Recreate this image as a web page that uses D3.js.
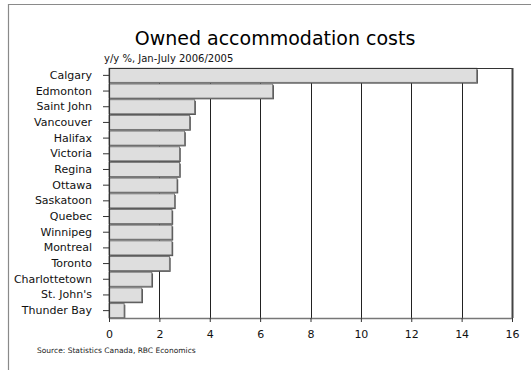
<!DOCTYPE html>
<html>
<head>
<meta charset="utf-8">
<script src="https://cdn.jsdelivr.net/npm/d3@7"></script>
<style>
  html, body { margin: 0; padding: 0; background: #fff; }
  svg { display: block; font-family: "DejaVu Sans", Verdana, sans-serif; }
</style>
</head>
<body>
<svg id="chart" width="531" height="370"></svg>
<script>
// Year-over-year change in owned accommodation costs, Jan-July 2006 vs 2005
const cities = ["Calgary", "Edmonton", "Saint John", "Vancouver", "Halifax", "Victoria",
  "Regina", "Ottawa", "Saskatoon", "Quebec", "Winnipeg", "Montreal", "Toronto",
  "Charlottetown", "St. John's", "Thunder Bay"];
const changes = [14.6, 6.5, 3.4, 3.2, 3.0, 2.8, 2.8, 2.7, 2.6, 2.5, 2.5, 2.5, 2.4, 1.7, 1.3, 0.6];
const xTicks = [0, 2, 4, 6, 8, 10, 12, 14, 16];

const svg = d3.select("#chart");
const plot = { left: 109, right: 512, top: 68, bottom: 318 };

// outer panel frame
svg.append("path")
  .attr("d", "M8.5,372 V4.5 H535")
  .attr("fill", "none").attr("stroke", "#8a8a8a").attr("stroke-width", 1.2);

const x = d3.scaleLinear().domain([0, 16]).range([plot.left, plot.right]);
const y = d3.scaleBand().domain(cities).range([plot.top, plot.bottom]).paddingInner(0.1).paddingOuter(0.02);

// vertical gridlines
svg.append("g").selectAll("line").data(xTicks.slice(1, -1)).join("line")
  .attr("x1", d => Math.round(x(d)) + 0.5).attr("x2", d => Math.round(x(d)) + 0.5)
  .attr("y1", plot.top).attr("y2", plot.bottom)
  .attr("stroke", "#222").attr("stroke-width", 1);

// bars with a dark shadow edge on the right and bottom
const bars = svg.append("g");
bars.selectAll("rect.shadow").data(cities).join("rect")
  .attr("class", "shadow")
  .attr("x", x(0) + 1.2).attr("y", d => y(d) + 1.2)
  .attr("width", (d, i) => x(changes[i]) - x(0))
  .attr("height", y.bandwidth())
  .attr("fill", "#4a4a4a");
bars.selectAll("rect.bar").data(cities).join("rect")
  .attr("class", "bar")
  .attr("x", x(0)).attr("y", d => y(d))
  .attr("width", (d, i) => x(changes[i]) - x(0))
  .attr("height", y.bandwidth())
  .attr("fill", "#dedede").attr("stroke", "#777").attr("stroke-width", 1);

// plot frame: top and right edges
svg.append("line").attr("x1", plot.left).attr("x2", plot.right).attr("y1", plot.top + 0.5).attr("y2", plot.top + 0.5)
  .attr("stroke", "#333").attr("stroke-width", 1);
svg.append("line").attr("x1", plot.right + 0.5).attr("x2", plot.right + 0.5).attr("y1", plot.top).attr("y2", plot.bottom)
  .attr("stroke", "#444").attr("stroke-width", 2);

// category axis
const yAxis = svg.append("g").attr("transform", `translate(${plot.left},0)`)
  .call(d3.axisLeft(y).tickSize(6).tickPadding(11).tickSizeOuter(0));
yAxis.select(".domain").attr("stroke", "#333").attr("stroke-width", 1.2);
yAxis.selectAll(".tick line").attr("stroke", "#333");
yAxis.selectAll(".tick text").attr("font-size", 11).attr("fill", "#111")
  .attr("font-family", "DejaVu Sans, Verdana, sans-serif");

// value axis
const xAxis = svg.append("g").attr("transform", `translate(0,${plot.bottom})`)
  .call(d3.axisBottom(x).tickValues(xTicks).tickFormat(d3.format("d")).tickSize(4).tickPadding(8).tickSizeOuter(0));
xAxis.select(".domain").attr("stroke", "#777").attr("stroke-width", 1.5);
xAxis.selectAll(".tick line").attr("stroke", "#333");
xAxis.selectAll(".tick text").attr("font-size", 11).attr("fill", "#111")
  .attr("font-family", "DejaVu Sans, Verdana, sans-serif");

// titles
svg.append("text").attr("x", 275).attr("y", 45).attr("text-anchor", "middle")
  .attr("font-size", 19).attr("fill", "#000")
  .text("Owned accommodation costs");
svg.append("text").attr("x", 104).attr("y", 62)
  .attr("font-size", 10).attr("fill", "#111")
  .text("y/y %, Jan-July 2006/2005");
svg.append("text").attr("x", 37).attr("y", 353)
  .attr("font-size", 7.5).attr("fill", "#222")
  .text("Source: Statistics Canada, RBC Economics");
</script>
</body>
</html>
